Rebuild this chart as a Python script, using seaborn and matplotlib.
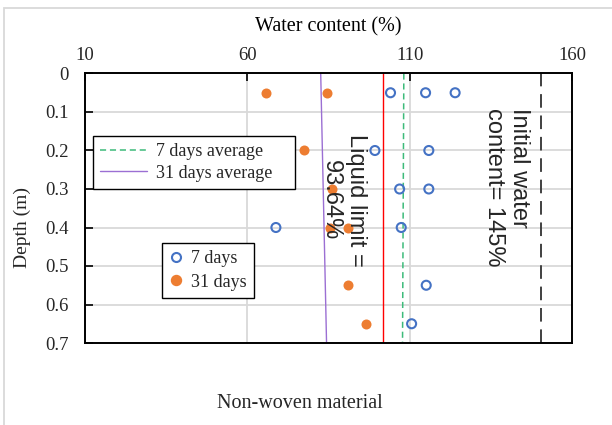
import matplotlib
matplotlib.use("Agg")
import matplotlib.pyplot as plt
from matplotlib.lines import Line2D
from matplotlib.patches import Rectangle
import seaborn as sns
import pandas as pd

# ---- data ----
depth_7 = [0.05, 0.05, 0.05, 0.2, 0.2, 0.3, 0.3, 0.4, 0.4, 0.55, 0.65]
wc_7 = [104.1, 114.9, 124.0, 99.3, 115.9, 106.9, 115.9, 107.4, 68.8, 115.1, 110.6]
depth_31 = [0.05, 0.05, 0.2, 0.3, 0.4, 0.4, 0.55, 0.65]
wc_31 = [65.6, 84.5, 77.4, 86.0, 85.6, 90.9, 91.0, 96.5]
avg_depth = [0.0, 0.7]
avg_7 = [108.2, 107.8]
avg_31 = [82.6, 84.4]
liquid_limit_line = 101.7
initial_wc_line = 150.4
x_ticks = [10, 60, 110, 160]
y_ticks = [0, 0.1, 0.2, 0.3, 0.4, 0.5, 0.6, 0.7]
y_tick_labels = ["0", "0.1", "0.2", "0.3", "0.4", "0.5", "0.6", "0.7"]

sns.set_theme(style="white")
plt.rcParams["font.family"] = ["Liberation Serif", "DejaVu Serif"]

BLUE = "#4472C4"
ORANGE = "#ED7D31"
GREEN = "#3DBB7A"
PURPLE = "#9B6FD3"

fig = plt.figure(figsize=(6.12, 4.25), dpi=100)
ax = fig.add_axes([85 / 612, 1 - 343 / 425, (572 - 85) / 612, (343 - 73.5) / 425])

# grid
ax.set_axisbelow(True)
ax.grid(True, color="#D9D9D9", linewidth=1.3)

df7 = pd.DataFrame({"wc": wc_7, "depth": depth_7})
df31 = pd.DataFrame({"wc": wc_31, "depth": depth_31})
dfa7 = pd.DataFrame({"wc": avg_7, "depth": avg_depth})
dfa31 = pd.DataFrame({"wc": avg_31, "depth": avg_depth})

ax.axvline(liquid_limit_line, color="#FF0000", linewidth=1.0, zorder=2)
ax.axvline(initial_wc_line, color="#404040", linewidth=1.4, dashes=(7, 4), zorder=2)
sns.lineplot(data=dfa7, x="wc", y="depth", orient="y", sort=False, ax=ax,
             color=GREEN, linewidth=1.1, dashes=False, linestyle=(0, (4, 2.5)), zorder=2)
sns.lineplot(data=dfa31, x="wc", y="depth", orient="y", sort=False, ax=ax,
             color=PURPLE, linewidth=1.0, zorder=2)

sns.scatterplot(data=df7, x="wc", y="depth", ax=ax, marker="o", s=42,
                facecolor="none", edgecolor=BLUE, linewidth=1.5, zorder=3)
sns.scatterplot(data=df31, x="wc", y="depth", ax=ax, marker="o", s=52,
                color=ORANGE, edgecolor=ORANGE, linewidth=0, zorder=3)

ax.set_xlim(10, 160)
ax.set_ylim(0.7, 0)
ax.set_xticks(x_ticks)
ax.set_yticks(y_ticks)
ax.set_yticklabels(y_tick_labels)
ax.xaxis.tick_top()
ax.xaxis.set_label_position("top")
ax.tick_params(axis="x", direction="in", length=6, width=1.2, color="black",
               labelsize=13.5, pad=7, top=True, bottom=False)
ax.tick_params(axis="y", direction="in", length=6, width=1.2, color="black",
               labelsize=13.5, pad=12, left=True)
for sp in ax.spines.values():
    sp.set_color("black")
    sp.set_linewidth(1.4)

ax.set_xlabel("Water content (%)", fontsize=14.5, labelpad=11, color="black")
ax.set_ylabel("")
fig.text(22 / 612, 1 - 228 / 425, "Depth (m)", rotation=90, fontsize=14,
         ha="center", va="center")
fig.text(300 / 612, 1 - 403 / 425, "Non-woven material", fontsize=14.5,
         ha="center", va="center")

# annotations
ax.text(89.5, 0.329, "Liquid limit =\n93.64%", rotation=270, rotation_mode="anchor",
        ha="center", va="center", multialignment="center", fontsize=17,
        family=["Liberation Sans", "DejaVu Sans"], zorder=4)
ax.text(139.8, 0.09, "Initial water\ncontent= 145%", rotation=270,
        ha="center", va="top", multialignment="left", fontsize=17,
        family=["Liberation Sans", "DejaVu Sans"], zorder=4)

# legends
h_lines = [Line2D([], [], color=GREEN, linewidth=1.1, linestyle=(0, (4, 2.5))),
           Line2D([], [], color=PURPLE, linewidth=1.0)]
leg1 = ax.legend(h_lines, ["7 days average", "31 days average"], loc="upper left",
                 bbox_to_anchor=(0.0164, 0.568, 0.415, 0.2), mode="expand",
                 fontsize=13, frameon=True,
                 fancybox=False, edgecolor="black", framealpha=1, handlelength=2.6,
                 borderaxespad=0, borderpad=0.4, labelspacing=0.25, handletextpad=0.5)
leg1.get_frame().set_linewidth(1.0)
ax.add_artist(leg1)

h_pts = [Line2D([], [], linestyle="none", marker="o", markersize=6.5,
                markerfacecolor="none", markeredgecolor=BLUE, markeredgewidth=1.5),
         Line2D([], [], linestyle="none", marker="o", markersize=7.2,
                markerfacecolor=ORANGE, markeredgecolor=ORANGE)]
leg2 = ax.legend(h_pts, ["7 days", "31 days"], loc="upper left",
                 bbox_to_anchor=(0.158, 0.371), fontsize=13, frameon=True,
                 fancybox=False, edgecolor="black", framealpha=1, handlelength=0.8,
                 borderaxespad=0, borderpad=0.4, labelspacing=0.35, handletextpad=0.4)
leg2.get_frame().set_linewidth(1.0)

# chart-area border
fig.add_artist(Rectangle((4 / 612, -0.1), 1.2, 417 / 425 + 0.1, transform=fig.transFigure,
                         fill=False, edgecolor="#D9D9D9", linewidth=1.3))

fig.savefig("out.png", dpi=100)
